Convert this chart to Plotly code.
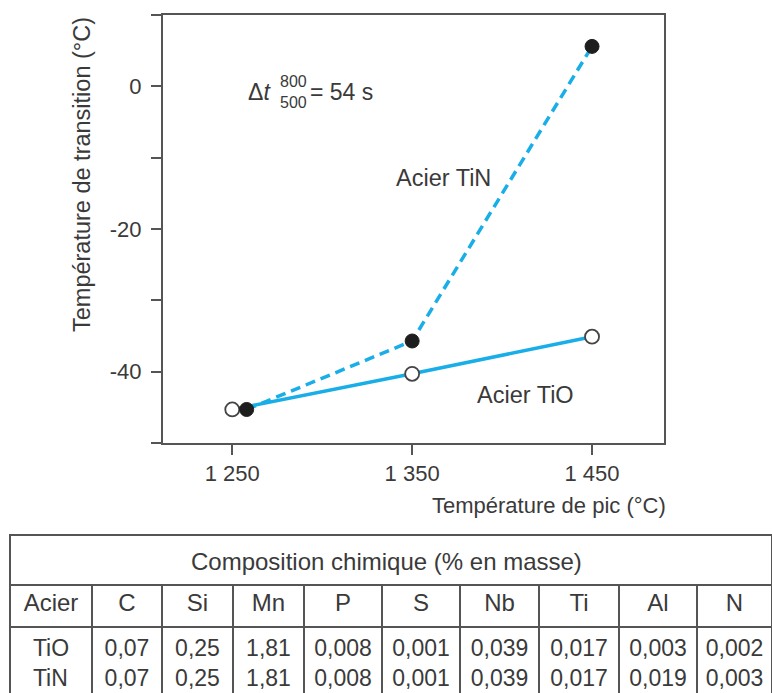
import plotly.graph_objects as go

W, H = 772, 693

# ---- data ----
tio_x = [1250, 1350, 1450]
tio_y = [-45.3, -40.3, -35.1]
tin_x = [1258, 1350, 1450]
tin_y = [-45.3, -35.7, 5.6]

x_tickvals = [1250, 1350, 1450]
x_ticktext = ["1 250", "1 350", "1 450"]
y_tickvals = [-40, -20, 0]
y_ticktext = ["-40", "-20", "0"]

table_title = "Composition chimique (% en masse)"
table_cols = ["Acier", "C", "Si", "Mn", "P", "S", "Nb", "Ti", "Al", "N"]
row_tio = ["TiO", "0,07", "0,25", "1,81", "0,008", "0,001", "0,039", "0,017", "0,003", "0,002"]
row_tin = ["TiN", "0,07", "0,25", "1,81", "0,008", "0,001", "0,039", "0,017", "0,019", "0,003"]

# ---- style ----
FONT = "Liberation Sans, Arial, sans-serif"
TXT = "#3a3a3a"
AX = "#555555"
BLUE = "#19aee8"

def px_x(p):
    return p / W

def px_y(p):
    return 1 - p / H

fig = go.Figure()

fig.add_trace(go.Scatter(
    x=tio_x, y=tio_y, mode="lines+markers",
    line=dict(color=BLUE, width=3.5),
    marker=dict(size=14, color="white", line=dict(color="#444444", width=1.8)),
    showlegend=False, cliponaxis=False,
))
fig.add_trace(go.Scatter(
    x=tin_x, y=tin_y, mode="lines+markers",
    line=dict(color=BLUE, width=3.5, dash="10px,6px"),
    marker=dict(size=14, color="#1e1e1e", line=dict(color="#1e1e1e", width=1)),
    showlegend=False, cliponaxis=False,
))

axis_common = dict(
    showline=True, linecolor=AX, linewidth=2, mirror=True,
    ticks="outside", ticklen=10, tickwidth=2, tickcolor=AX,
    showgrid=False, zeroline=False,
    tickfont=dict(family=FONT, size=22, color=TXT),
)

fig.update_layout(
    width=W, height=H,
    margin=dict(l=0, r=0, t=0, b=0),
    paper_bgcolor="white", plot_bgcolor="white",
    xaxis=dict(
        domain=[px_x(163), px_x(664)], range=[1211.5, 1490],
        tickvals=x_tickvals, ticktext=x_ticktext, **axis_common,
    ),
    yaxis=dict(
        domain=[px_y(443), px_y(15)], range=[-50, 10],
        tickvals=y_tickvals, ticktext=y_ticktext, ticklabelstandoff=5,
        minor=dict(dtick=10, tick0=0, ticks="outside", ticklen=10, tickwidth=2, tickcolor=AX),
        **axis_common,
    ),
)

def pann(text, x, y, size, xanchor="center", **kw):
    return dict(text=text, xref="paper", yref="paper", x=px_x(x), y=px_y(y),
                xanchor=xanchor, yanchor="middle", showarrow=False,
                font=dict(family=FONT, size=size, color=TXT), **kw)

ann = [
    # axis titles
    pann("Température de transition (°C)", 82, 175, 23.5, textangle=-90),
    pann("Température de pic (°C)", 668, 505, 22, xanchor="right"),
    # series labels
    dict(text="Acier TiN", xref="x", yref="y", x=1367.4, y=-12.9, showarrow=False,
         xanchor="center", yanchor="middle", font=dict(family=FONT, size=23.5, color=TXT)),
    dict(text="Acier TiO", xref="x", yref="y", x=1413, y=-43.3, showarrow=False,
         xanchor="center", yanchor="middle", font=dict(family=FONT, size=23.5, color=TXT)),
    # Delta t annotation
    pann("Δ<i>t</i>", 246, 92, 23, xanchor="left"),
    pann("800", 293, 81, 16),
    pann("500", 293, 102, 16),
    pann("= 54 s", 308, 92, 23, xanchor="left"),
    # table title (over the spanning header cell)
    pann(table_title, 386, 561, 24),
]
fig.update_layout(annotations=ann)

# ---- table ----
colw = [82, 70, 71, 71, 78, 78, 79, 80, 78, 75]
tline = dict(color=AX, width=2)

fig.add_trace(go.Table(
    domain=dict(x=[px_x(10), 1], y=[px_y(585), px_y(535)]),
    header=dict(values=[""], height=50, align="center",
                line=tline, fill=dict(color="white"),
                font=dict(family=FONT, size=24, color=TXT)),
    cells=dict(values=[[]], line=tline, fill=dict(color="white")),
))

cell_vals = [[f"{a}<br>{b}"] for a, b in zip(row_tio, row_tin)]
fig.add_trace(go.Table(
    domain=dict(x=[px_x(10), 1], y=[0, px_y(585)]),
    columnwidth=colw,
    header=dict(values=table_cols, height=42, align="center",
                line=tline, fill=dict(color="white"),
                font=dict(family=FONT, size=24, color=TXT)),
    cells=dict(values=cell_vals, height=66, align="center",
               line=tline, fill=dict(color="white"),
               font=dict(family=FONT, size=23, color=TXT)),
))

fig.write_html("out.html")
